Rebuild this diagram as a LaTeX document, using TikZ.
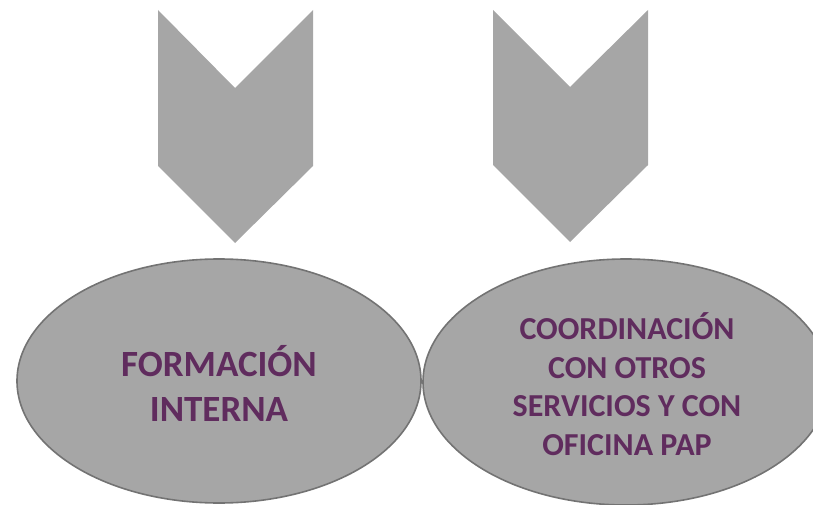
\documentclass[tikz,border=0pt]{standalone}
\usepackage{fontspec}
\setmainfont{Carlito}
\usetikzlibrary{shapes.geometric}
\definecolor{chevgray}{RGB}{166,166,166}
\definecolor{ellgray}{RGB}{166,166,166}
\definecolor{ellline}{RGB}{115,115,115}
\definecolor{purpletext}{RGB}{96,44,94}
\tikzset{
  chevron/.style={fill=chevgray, draw=none},
  bubble/.style={ellipse, fill=ellgray, draw=ellline, line width=1.6pt, inner sep=0pt},
  bubbletext/.style={text=purpletext, align=center, inner sep=0pt, font=\bfseries},
}
\begin{document}
\begin{tikzpicture}[x=1pt,y=-1pt]
\useasboundingbox (0,0) rectangle (813,505);
\clip (0,0) rectangle (813,505);
% chevrons
\path[chevron] (158,10) -- (235,88) -- (313,10) -- (313,166) -- (235,243) -- (158,166) -- cycle;
\path[chevron] (493,10) -- (570,87) -- (648,10) -- (648,165) -- (570,242) -- (493,165) -- cycle;
% ellipses
\node[bubble, minimum width=404pt, minimum height=244pt] (e1) at (219,381) {};
\node[bubble, minimum width=406pt, minimum height=246pt] (e2) at (626,382) {};
% labels
\node[bubbletext, font=\bfseries\fontsize{37}{45}\selectfont] (t1) at (219,383) {FORMACIÓN\\INTERNA};
\node[bubbletext, font=\bfseries\fontsize{32}{38.5}\selectfont] (t2) at (627,384) {COORDINACIÓN\\CON OTROS\\SERVICIOS Y CON\\OFICINA PAP};
\end{tikzpicture}
\end{document}
